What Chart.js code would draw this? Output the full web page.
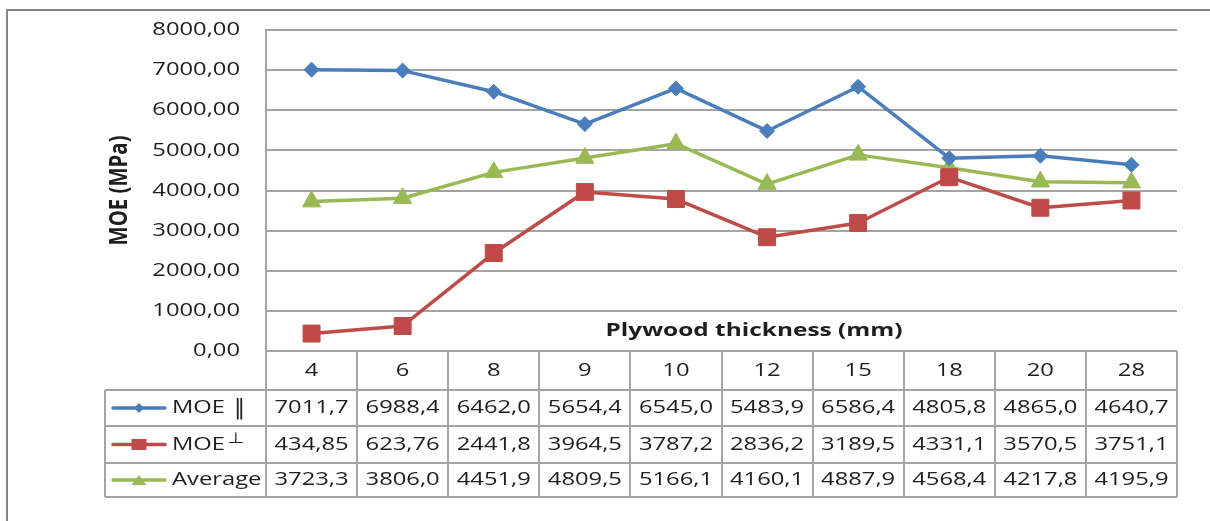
<!DOCTYPE html>
<html>
<head>
<meta charset="utf-8">
<script src="https://cdn.jsdelivr.net/npm/chart.js@4/dist/chart.umd.min.js"></script>
<style>
  html, body { margin: 0; padding: 0; background: #fff; overflow: hidden; }
  #wrap { width: 1210px; height: 521px; position: relative; }
</style>
</head>
<body>
<div id="wrap"><canvas id="chart"></canvas></div>
<script>
// Plywood thickness (mm) categories and MOE values (MPa)
const thickness = ['4', '6', '8', '9', '10', '12', '15', '18', '20', '28'];
const moeParallel = [7011.7, 6988.4, 6462.0, 5654.4, 6545.0, 5483.9, 6586.4, 4805.8, 4865.0, 4640.7];
const moePerpendicular = [434.85, 623.76, 2441.8, 3964.5, 3787.2, 2836.2, 3189.5, 4331.1, 3570.5, 3751.1];
const moeAverage = [3723.3, 3806.0, 4451.9, 4809.5, 5166.1, 4160.1, 4887.9, 4568.4, 4217.8, 4195.9];
const seriesNames = ['MOE', 'MOE', 'Average'];
const seriesMarks = ['\u2016', '\u22A5', ''];
const yMin = 0, yMax = 8000, yStep = 1000;

const COLORS = ['#4a7ebb', '#be4b48', '#98b954'];
const TEXT = '#1e1e1e';
const GRID = '#a4a4a4';
const STRETCH = 1.32;
const FONT = '"Open Sans", "Liberation Sans", sans-serif';

function fmtComma(str) { return str.replace('.', ','); }
function fmtTick(v) { return fmtComma(v.toFixed(2)); }
function fmtCell(v) { return fmtComma(v.toPrecision(5)); }

function wideText(ctx, str, x, y, font, align) {
  ctx.save();
  ctx.translate(x, y);
  ctx.scale(STRETCH, 1);
  ctx.font = font;
  ctx.textAlign = align;
  ctx.textBaseline = 'middle';
  ctx.fillStyle = TEXT;
  ctx.fillText(str, 0, 0);
  ctx.restore();
}

function marker(ctx, style, x, y, color, w, h) {
  ctx.save();
  ctx.fillStyle = color;
  ctx.beginPath();
  if (style === 'rectRot') {
    ctx.moveTo(x, y - h / 2); ctx.lineTo(x + w / 2, y); ctx.lineTo(x, y + h / 2); ctx.lineTo(x - w / 2, y);
  } else if (style === 'rect') {
    ctx.rect(x - w / 2, y - h / 2, w, h);
  } else {
    ctx.moveTo(x, y - h / 2); ctx.lineTo(x + w / 2, y + h / 2); ctx.lineTo(x - w / 2, y + h / 2);
  }
  ctx.closePath();
  ctx.fill();
  ctx.restore();
}

const dataRows = [moeParallel, moePerpendicular, moeAverage];
const pointStyles = ['rectRot', 'rect', 'triangle'];
const pointRadii = [7.5, 12, 10.5];

const frameAndTable = {
  id: 'frameAndTable',
  beforeDraw(chart) {
    const ctx = chart.ctx;
    ctx.save();
    ctx.fillStyle = '#ffffff';
    ctx.fillRect(0, 0, chart.width, chart.height);
    ctx.strokeStyle = '#858585';
    ctx.lineWidth = 2;
    ctx.strokeRect(7, 10, chart.width + 20, chart.height + 20);
    ctx.restore();
  },
  afterDraw(chart) {
    const ctx = chart.ctx;
    const ca = chart.chartArea;
    const xs = chart.scales.x;
    const ys = chart.scales.y;

    // value axis labels
    ys.ticks.forEach(t => {
      wideText(ctx, fmtTick(t.value), ca.left - 26, ys.getPixelForValue(t.value), '18px ' + FONT, 'right');
    });

    // value axis title
    ctx.save();
    ctx.translate(120, (ca.top + ca.bottom) / 2);
    ctx.rotate(-Math.PI / 2);
    ctx.scale(1.1, STRETCH);
    ctx.font = 'bold 18.5px ' + FONT;
    ctx.textAlign = 'center';
    ctx.textBaseline = 'middle';
    ctx.fillStyle = TEXT;
    ctx.fillText('MOE (MPa)', 0, 0);
    ctx.restore();

    // category axis title
    wideText(ctx, 'Plywood thickness (mm)', ca.left + 488, ca.bottom - 20, 'bold 18.5px ' + FONT, 'center');

    // data table
    const n = thickness.length;
    const colW = (ca.right - ca.left) / n;
    const legendLeft = 105;
    const rowY = [ca.bottom, ca.bottom + 39, ca.bottom + 75, ca.bottom + 112, ca.bottom + 146];

    ctx.save();
    ctx.strokeStyle = GRID;
    ctx.lineWidth = 2;
    ctx.beginPath();
    ctx.moveTo(ca.left, rowY[0]); ctx.lineTo(ca.right, rowY[0]);
    for (let r = 1; r < rowY.length; r++) {
      ctx.moveTo(legendLeft, rowY[r]); ctx.lineTo(ca.right, rowY[r]);
    }
    for (let k = 0; k <= n; k++) {
      const xx = Math.round(ca.left + k * colW);
      ctx.moveTo(xx, rowY[0]); ctx.lineTo(xx, rowY[4]);
    }
    ctx.moveTo(legendLeft, rowY[1]); ctx.lineTo(legendLeft, rowY[4]);
    ctx.stroke();
    ctx.restore();

    const cellFont = '18px ' + FONT;
    thickness.forEach((c, i) => {
      wideText(ctx, c, xs.getPixelForValue(i), (rowY[0] + rowY[1]) / 2, cellFont, 'center');
    });

    const legendSizes = [[10, 10], [15, 11], [15, 10]];
    dataRows.forEach((row, r) => {
      const cy = (rowY[r + 1] + rowY[r + 2]) / 2;
      row.forEach((v, i) => {
        wideText(ctx, fmtCell(v), xs.getPixelForValue(i), cy, cellFont, 'center');
      });
      // legend key
      ctx.save();
      ctx.strokeStyle = COLORS[r];
      ctx.lineWidth = 3.5;
      ctx.lineCap = 'round';
      ctx.beginPath();
      ctx.moveTo(113, cy); ctx.lineTo(165, cy);
      ctx.stroke();
      ctx.restore();
      marker(ctx, pointStyles[r], 139, cy, COLORS[r], legendSizes[r][0], legendSizes[r][1]);
      wideText(ctx, seriesNames[r], 172, cy, cellFont, 'left');
      if (seriesMarks[r]) {
        ctx.save();
        ctx.font = cellFont;
        const w = ctx.measureText(seriesNames[r]).width * STRETCH;
        ctx.restore();
        ctx.save();
        ctx.fillStyle = TEXT;
        ctx.textAlign = 'left';
        ctx.textBaseline = 'middle';
        if (r === 0) {
          // double bar for the parallel direction
          ctx.font = '22px "DejaVu Sans", sans-serif';
          ctx.fillText(seriesMarks[r], 172 + w + 9, cy);
        } else {
          // raised up-tack for the perpendicular direction
          ctx.font = '15px "DejaVu Sans", sans-serif';
          ctx.translate(172 + w + 2, cy - 5);
          ctx.scale(STRETCH, 1);
          ctx.fillText(seriesMarks[r], 0, 0);
        }
        ctx.restore();
      }
    });
  }
};

new Chart(document.getElementById('chart'), {
  type: 'line',
  data: {
    labels: thickness,
    datasets: dataRows.map((row, r) => ({
      label: seriesNames[r] + (seriesMarks[r] ? ' ' + seriesMarks[r] : ''),
      data: row,
      borderColor: COLORS[r],
      backgroundColor: COLORS[r],
      borderWidth: 3.5,
      borderJoinStyle: 'round',
      borderCapStyle: 'round',
      tension: 0,
      pointStyle: pointStyles[r],
      pointRadius: pointRadii[r],
      pointBorderWidth: 1,
      pointBackgroundColor: COLORS[r],
      pointBorderColor: COLORS[r]
    }))
  },
  options: {
    responsive: true,
    maintainAspectRatio: false,
    animation: false,
    devicePixelRatio: 1,
    layout: { padding: { left: 0, top: 30, right: 33, bottom: 170 } },
    plugins: {
      legend: { display: false },
      tooltip: { enabled: false },
      title: { display: false }
    },
    scales: {
      x: {
        display: false,
        offset: true
      },
      y: {
        min: yMin,
        max: yMax,
        ticks: { stepSize: yStep, display: false },
        grid: { color: GRID, lineWidth: 2, drawTicks: false },
        border: { display: true, color: GRID, width: 2 },
        afterFit(scale) { scale.width = 266; }
      }
    }
  },
  plugins: [frameAndTable]
});
</script>
</body>
</html>
